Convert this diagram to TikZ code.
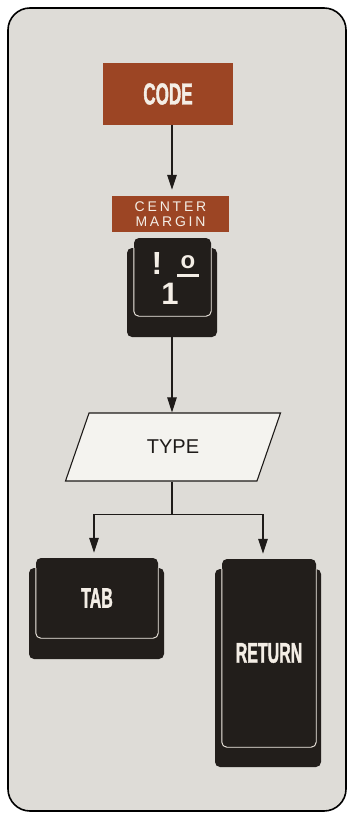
\documentclass[tikz,border=0pt]{standalone}
\usepackage{fontspec}
\setmainfont{Liberation Sans}
\newfontfamily\condfont[FakeStretch=0.56,FakeBold=1.2]{Liberation Sans}
\newfontfamily\spacedfont[LetterSpace=20]{Liberation Sans}
\usetikzlibrary{arrows.meta,shapes.geometric}
\definecolor{bggrey}{HTML}{DEDCD7}
\definecolor{rust}{HTML}{9C4524}
\definecolor{keyblack}{HTML}{221E1B}
\definecolor{cream}{HTML}{F4EEE6}
\definecolor{paper}{HTML}{F4F3EF}
\definecolor{ink}{HTML}{1E1B19}
\begin{document}
\begin{tikzpicture}[x=1pt,y=-1pt,
  arr/.style={draw=ink,line width=1.1pt,-{Triangle[length=15pt,width=9.5pt]}},
  plain/.style={draw=ink,line width=1.1pt},
  rustbox/.style={fill=rust,text=cream,inner sep=0pt},
  capbox/.style={fill=keyblack,rounded corners=5pt,inner sep=0pt,text=cream},
  basebox/.style={fill=keyblack,rounded corners=5pt,inner sep=0pt},
  capline/.style={draw=cream,line width=0.9pt,rounded corners=5pt},
  keylabel/.style={font=\condfont\bfseries\fontsize{28.5}{28.5}\selectfont},
  glyph/.style={text=cream,inner sep=0pt}
]
\useasboundingbox (0,0) rectangle (347,813);
\fill[white] (0,0) rectangle (347,813);
\draw[line width=1.6pt,fill=bggrey,rounded corners=22pt] (8,8) rectangle (346,811);

% CODE
\node[rustbox,minimum width=130pt,minimum height=62pt,
      font=\condfont\bfseries\fontsize{30.5}{30.5}\selectfont] (code) at (168,94) {CODE};
% CENTER MARGIN
\node[rustbox,minimum width=117pt,minimum height=36pt,align=center,
      font=\spacedfont\fontsize{14}{15}\selectfont] (cm) at (170.5,214) {CENTER\\MARGIN};

% key ! 1
\node[basebox,minimum width=90pt,minimum height=89pt] (key1base) at (172,292.5) {};
\node[capbox,minimum width=77pt,minimum height=78pt] (key1) at (172.5,277) {};
\draw[capline] (key1.west |- key1base.north) -- (key1.south west) -- (key1.south east) -- (key1.east |- key1base.north);
\node[glyph,font=\bfseries\fontsize{32}{32}\selectfont] (excl) at (157,263.5) {!};
\node[glyph,font=\bfseries\fontsize{24}{24}\selectfont] (ord) at (188,262) {o};
\draw[cream,line width=2.6pt] ([xshift=-11pt,yshift=-7pt]ord.south) -- ([xshift=11pt,yshift=-7pt]ord.south);
\node[glyph,font=\bfseries\fontsize{31}{31}\selectfont] (one) at (170,294) {1};

% TYPE
\node[trapezium,trapezium left angle=68,trapezium right angle=112,trapezium stretches=true,
      minimum width=216pt,minimum height=68pt,draw=ink,line width=1.1pt,fill=paper,
      text=ink,font=\fontsize{20}{20}\selectfont] (type) at (173,447) {TYPE};

% TAB
\node[basebox,minimum width=135pt,minimum height=91pt] (tabbase) at (96.5,613.5) {};
\node[capbox,keylabel,minimum width=122pt,minimum height=80pt] (tab) at (97,598) {TAB};
\draw[capline] (tab.west |- tabbase.north) -- (tab.south west) -- (tab.south east) -- (tab.east |- tabbase.north);

% RETURN
\node[basebox,minimum width=106pt,minimum height=198pt] (retbase) at (268,668) {};
\node[capbox,keylabel,minimum width=94pt,minimum height=188pt] (ret) at (269,653) {RETURN};
\draw[capline] (ret.west |- retbase.north) -- (ret.south west) -- (ret.south east) -- (ret.east |- retbase.north);

% connectors
\draw[arr,shorten >=6pt] (code.south -| key1base.north) -- (cm.north -| key1base.north);
\draw[arr] (key1base.south) -- (key1base.south |- type.north);
\draw[plain] (key1base.south |- type.south) -- ++(0,33) coordinate (split);
\draw[arr,shorten >=5pt] (split) -| ([xshift=-3pt]tab.north);
\draw[arr,shorten >=5pt] (split) -| ([xshift=-6pt]ret.north);
\end{tikzpicture}
\end{document}
